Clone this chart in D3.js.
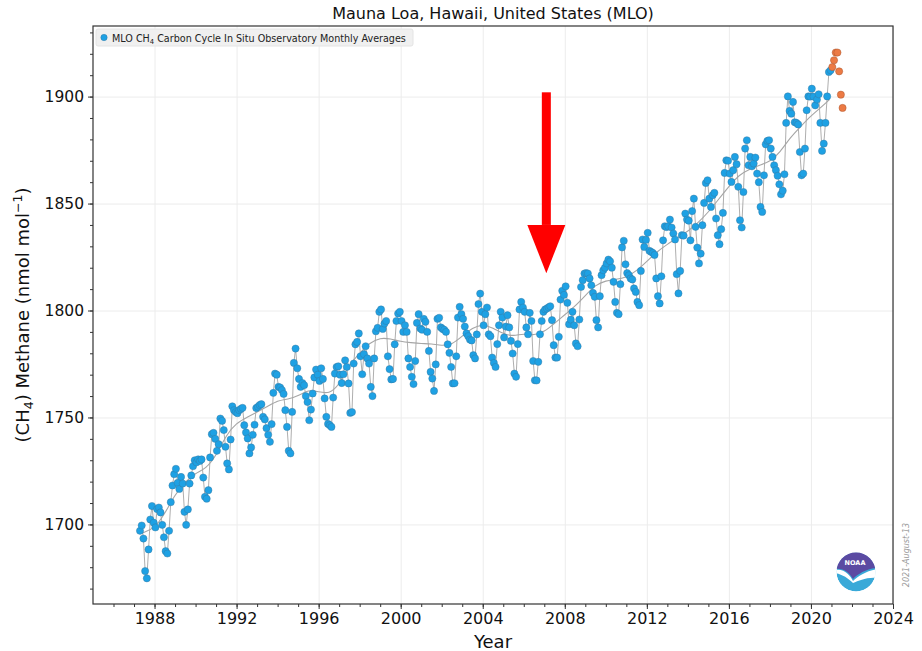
<!DOCTYPE html>
<html>
<head>
<meta charset="utf-8">
<script src="https://cdn.jsdelivr.net/npm/d3@7"></script>
<style>
  html, body { margin: 0; padding: 0; background: #fff; }
  svg { display: block; font-family: 'DejaVu Sans', sans-serif; }
</style>
</head>
<body>
<div id="chart"></div>
<script>
// monthly means, first value is April 1987
const firstYear = 1987;
const firstMonth = 4;
const monthlyCH4 = [
  1697.0, 1699.5, 1693.4, 1678.2, 1674.8, 1688.3, 1702.3, 1708.6, 1700.8,
  1698.6, 1707.2, 1707.9, 1705.6, 1699.8, 1694.0, 1687.5, 1686.4, 1697.0, 1710.4, 1718.2, 1723.5,
  1726.0, 1719.4, 1716.6, 1722.2, 1719.1, 1705.9, 1699.8, 1707.0, 1719.1, 1722.9, 1727.2, 1730.0,
  1729.0, 1730.4, 1729.7, 1730.4, 1721.9, 1712.9, 1712.0, 1716.0, 1731.3, 1742.2, 1742.8, 1740.0,
  1734.4, 1737.5, 1749.5, 1748.4, 1744.1, 1736.3, 1728.5, 1725.7, 1739.7, 1755.2, 1753.4, 1752.5,
  1752.0, 1753.4, 1754.0, 1754.5, 1746.4, 1743.0, 1740.2, 1733.2, 1736.0, 1741.9, 1746.6, 1754.4,
  1755.0, 1755.8, 1756.2, 1750.3, 1749.1, 1745.0, 1741.9, 1738.6, 1746.9, 1761.5, 1770.5, 1770.0,
  1764.3, 1764.0, 1762.8, 1761.0, 1753.4, 1745.6, 1734.4, 1733.2, 1752.6, 1775.5, 1782.2, 1773.0,
  1768.0, 1764.3, 1766.1, 1765.1, 1760.0, 1757.2, 1748.7, 1753.7, 1761.2, 1768.7, 1772.4, 1770.0,
  1767.1, 1773.0, 1768.0, 1758.9, 1750.3, 1747.0, 1746.4, 1745.6, 1759.3, 1770.5, 1773.6, 1773.9,
  1770.0, 1766.1, 1770.2, 1776.7, 1773.6, 1765.9, 1752.1, 1752.5, 1775.2, 1784.2, 1785.3, 1789.3,
  1778.6, 1770.2, 1779.6, 1783.3, 1777.6, 1775.2, 1764.3, 1760.0, 1777.6, 1790.3, 1791.9, 1799.4,
  1800.5, 1791.4, 1793.9, 1795.1, 1778.6, 1772.6, 1767.8, 1768.0, 1784.2, 1795.1, 1798.6, 1799.4,
  1795.1, 1790.0, 1793.1, 1790.0, 1777.6, 1773.6, 1769.0, 1765.6, 1776.4, 1794.2, 1798.3, 1791.6,
  1791.0, 1796.1, 1794.7, 1790.0, 1781.1, 1771.3, 1768.2, 1762.4, 1774.8, 1796.1, 1796.6, 1792.1,
  1791.4, 1791.0, 1790.0, 1784.2, 1780.2, 1773.6, 1765.9, 1766.0, 1778.6, 1796.7, 1801.7, 1798.3,
  1796.1, 1792.5, 1789.3, 1788.0, 1786.4, 1786.0, 1779.1, 1777.6, 1788.8, 1803.0, 1807.9, 1799.4,
  1793.1, 1798.3, 1801.4, 1788.9, 1788.0, 1778.0, 1775.5, 1773.6, 1784.3, 1793.1, 1799.4, 1796.7,
  1787.4, 1792.5, 1797.8, 1792.1, 1785.8, 1779.9, 1770.5, 1769.0, 1784.3, 1800.5, 1804.0, 1801.4,
  1799.4, 1792.1, 1788.9, 1798.9, 1795.1, 1776.4, 1767.4, 1767.3, 1776.0, 1788.9, 1795.1, 1799.4,
  1800.5, 1800.9, 1801.5, 1802.0, 1795.5, 1783.8, 1778.0, 1778.0, 1787.7, 1805.1, 1809.2, 1807.3,
  1811.3, 1803.6, 1793.6, 1795.7, 1799.4, 1793.1, 1784.6, 1783.3, 1795.8, 1811.0, 1814.2, 1817.3,
  1817.5, 1817.3, 1815.0, 1811.8, 1808.2, 1806.4, 1795.5, 1792.1, 1806.7, 1816.5, 1818.8, 1820.0,
  1822.0, 1823.8, 1823.0, 1820.0, 1813.4, 1804.0, 1798.9, 1798.3, 1812.3, 1829.5, 1832.6, 1821.6,
  1817.5, 1816.5, 1815.0, 1814.5, 1810.3, 1808.7, 1804.0, 1802.5, 1818.5, 1833.2, 1829.7, 1833.0,
  1836.3, 1827.9, 1827.4, 1826.9, 1826.0, 1815.0, 1806.7, 1803.3, 1816.0, 1832.8, 1839.4, 1839.0,
  1839.4, 1842.5, 1838.8, 1836.0, 1833.2, 1817.0, 1808.0, 1818.5, 1835.2, 1835.0, 1845.3, 1842.5,
  1842.0, 1832.8, 1846.5, 1852.3, 1839.1, 1829.4, 1822.0, 1826.6, 1839.9, 1850.3, 1859.6, 1860.9,
  1852.3, 1848.4, 1853.9, 1855.0, 1843.0, 1835.2, 1831.0, 1838.0, 1845.6, 1864.3, 1870.2, 1870.0,
  1864.0, 1860.1, 1865.6, 1871.8, 1868.4, 1857.8, 1842.2, 1838.8, 1855.4, 1875.7, 1879.6, 1867.9,
  1871.8, 1867.4, 1868.7, 1871.5, 1864.0, 1860.0, 1848.4, 1846.1, 1863.2, 1877.7, 1879.3, 1879.6,
  1875.7, 1871.8, 1867.9, 1865.6, 1863.0, 1859.0, 1854.3, 1856.0, 1863.7, 1887.7, 1900.1, 1893.3,
  1892.0, 1897.5, 1888.0, 1887.7, 1887.0, 1874.1, 1863.2, 1864.0, 1875.7, 1893.6, 1900.1, 1900.0,
  1903.7, 1900.0, 1895.9, 1898.6, 1901.1, 1887.7, 1874.6, 1878.0, 1887.7, 1900.1, 1911.5, 1912.3
];
// preliminary values, Jan..Jul 2021
const prelimCH4 = [1913.8, 1917.0, 1920.6, 1920.6, 1911.8, 1900.9, 1894.7];

// long term trend, read at half-year steps
const trendYears = [1987.4, 1988.0, 1988.5, 1989.0, 1989.5, 1990.0, 1990.5, 1991.0, 1991.5, 1992.0,
  1992.5, 1993.0, 1993.5, 1994.0, 1994.5, 1995.0, 1995.5, 1996.0, 1996.5, 1997.0, 1997.5, 1998.0,
  1998.5, 1999.0, 1999.5, 2000.0, 2000.5, 2001.0, 2001.5, 2002.0, 2002.5, 2003.0, 2003.5, 2004.0,
  2004.5, 2005.0, 2005.5, 2006.0, 2006.5, 2007.0, 2007.5, 2008.0, 2008.5, 2009.0, 2009.5, 2010.0,
  2010.5, 2011.0, 2011.5, 2012.0, 2012.5, 2013.0, 2013.5, 2014.0, 2014.5, 2015.0, 2015.5, 2016.0,
  2016.5, 2017.0, 2017.5, 2018.0, 2018.5, 2019.0, 2019.5, 2020.0, 2020.5, 2020.9];
const trendCH4 = [1696.0, 1698.0, 1705.0, 1714.0, 1720.0, 1724.0, 1726.0, 1732.0, 1742.0, 1747.5,
  1750.0, 1752.5, 1755.0, 1758.0, 1758.5, 1760.0, 1763.0, 1762.0, 1761.0, 1765.0, 1775.0, 1780.0,
  1785.0, 1787.3, 1786.8, 1785.5, 1785.0, 1784.5, 1784.5, 1783.5, 1784.0, 1788.0, 1792.0, 1793.5,
  1792.0, 1789.0, 1788.0, 1789.3, 1788.3, 1790.0, 1794.0, 1798.0, 1802.0, 1807.0, 1812.0, 1814.0,
  1814.5, 1815.5, 1818.5, 1823.0, 1827.5, 1831.0, 1834.0, 1837.0, 1841.0, 1846.0, 1852.0, 1858.0,
  1863.5, 1866.0, 1868.0, 1869.5, 1874.0, 1881.0, 1886.0, 1891.0, 1895.0, 1898.6];

const xTicks = [1988, 1992, 1996, 2000, 2004, 2008, 2012, 2016, 2020, 2024];
const yTicks = [1700, 1750, 1800, 1850, 1900];

// red arrow, data units
const arrowYear = 2007.1;
const arrowTop = 1902;
const arrowHeadBase = 1840;
const arrowTip = 1817.4;

const width = 922;
const height = 651;
const margin = { top: 26, right: 29, bottom: 47, left: 93 };

const x = d3.scaleLinear().domain([1985, 2024]).range([margin.left, width - margin.right]);
const y = d3.scaleLinear().domain([1662.8, 1933]).range([height - margin.bottom, margin.top]);

let points = monthlyCH4.map((v, i) => {
  let m = firstMonth - 1 + i;
  return { t: firstYear + Math.floor(m / 12) + ((m % 12) + 0.5) / 12, v };
});
let prelim = prelimCH4.map((v, i) => ({ t: 2021 + (i + 0.5) / 12, v }));
let trend = trendYears.map((t, i) => ({ t, v: trendCH4[i] }));

const svg = d3.select('#chart').append('svg')
  .attr('width', width).attr('height', height);

// grid
svg.append('g').attr('class', 'grid')
  .attr('transform', `translate(0,${height - margin.bottom})`)
  .call(d3.axisBottom(x).tickValues(xTicks).tickFormat('').tickSize(-(height - margin.top - margin.bottom)))
  .call((g) => g.select('.domain').remove())
  .call((g) => g.selectAll('line').attr('stroke', '#ececec'));
svg.append('g').attr('class', 'grid')
  .attr('transform', `translate(${margin.left},0)`)
  .call(d3.axisLeft(y).tickValues(yTicks).tickFormat('').tickSize(-(width - margin.left - margin.right)))
  .call((g) => g.select('.domain').remove())
  .call((g) => g.selectAll('line').attr('stroke', '#ececec'));

// minor ticks
svg.append('g')
  .attr('transform', `translate(0,${height - margin.bottom})`)
  .call(d3.axisBottom(x).tickValues(d3.range(1986, 2024)).tickFormat('').tickSize(3))
  .call((g) => g.select('.domain').remove())
  .call((g) => g.selectAll('line').attr('stroke', '#333'));
svg.append('g')
  .attr('transform', `translate(${margin.left},0)`)
  .call(d3.axisLeft(y).tickValues(d3.range(1670, 1933, 10)).tickFormat('').tickSize(3))
  .call((g) => g.select('.domain').remove())
  .call((g) => g.selectAll('line').attr('stroke', '#333'));

// major ticks + labels
svg.append('g')
  .attr('transform', `translate(0,${height - margin.bottom})`)
  .call(d3.axisBottom(x).tickValues(xTicks).tickFormat(d3.format('d')).tickSize(5).tickPadding(4))
  .call((g) => g.select('.domain').remove())
  .call((g) => g.selectAll('line').attr('stroke', '#333'))
  .call((g) => g.selectAll('text').attr('font-size', 16).attr('fill', '#111').attr('font-family', 'DejaVu Sans'));
svg.append('g')
  .attr('transform', `translate(${margin.left},0)`)
  .call(d3.axisLeft(y).tickValues(yTicks).tickFormat(d3.format('d')).tickSize(5).tickPadding(4))
  .call((g) => g.select('.domain').remove())
  .call((g) => g.selectAll('line').attr('stroke', '#333'))
  .call((g) => g.selectAll('text').attr('font-size', 15.5).attr('fill', '#111').attr('font-family', 'DejaVu Sans'));

// lines
const line = d3.line().x((d) => x(d.t)).y((d) => y(d.v));
svg.append('path').datum(points)
  .attr('d', line)
  .attr('fill', 'none').attr('stroke', '#999').attr('stroke-width', 0.8);
svg.append('path').datum(trend)
  .attr('d', line.curve(d3.curveBasis))
  .attr('fill', 'none').attr('stroke', '#a5a5a5').attr('stroke-width', 1.1);

// markers
svg.append('g').selectAll('circle').data(points).join('circle')
  .attr('cx', (d) => x(d.t)).attr('cy', (d) => y(d.v)).attr('r', 3.6)
  .attr('fill', '#1ea1e4').attr('stroke', '#3578a0').attr('stroke-width', 0.45);
svg.append('g').selectAll('circle').data(prelim).join('circle')
  .attr('cx', (d) => x(d.t)).attr('cy', (d) => y(d.v)).attr('r', 3.6)
  .attr('fill', '#ec7a44').attr('stroke', '#a6532c').attr('stroke-width', 0.45);

// frame
svg.append('rect')
  .attr('x', margin.left).attr('y', margin.top)
  .attr('width', width - margin.left - margin.right)
  .attr('height', height - margin.top - margin.bottom)
  .attr('fill', 'none').attr('stroke', '#333').attr('stroke-width', 1.2);

// legend
const legend = svg.append('g');
legend.append('rect')
  .attr('x', 96).attr('y', 29).attr('width', 317).attr('height', 17).attr('rx', 2)
  .attr('fill', '#f0f0f0').attr('stroke', '#e4e4e4');
legend.append('circle').attr('cx', 104).attr('cy', 37.5).attr('r', 3.2)
  .attr('fill', '#1ea1e4').attr('stroke', '#3578a0').attr('stroke-width', 0.45);
const lt = legend.append('text').attr('x', 112).attr('y', 41.5).attr('font-size', 9.6).attr('fill', '#222');
lt.append('tspan').text('MLO CH');
lt.append('tspan').attr('font-size', 6.8).attr('dy', 2).text('4');
lt.append('tspan').attr('dy', -2).text(' Carbon Cycle In Situ Observatory Monthly Averages');

// title + axis labels
svg.append('text').attr('x', (margin.left + width - margin.right) / 2).attr('y', 19)
  .attr('text-anchor', 'middle').attr('font-size', 16).attr('fill', '#111')
  .text('Mauna Loa, Hawaii, United States (MLO)');
svg.append('text').attr('x', (margin.left + width - margin.right) / 2).attr('y', 648)
  .attr('text-anchor', 'middle').attr('font-size', 18).attr('fill', '#111').text('Year');

const yl = svg.append('text')
  .attr('transform', `translate(29,${(margin.top + height - margin.bottom) / 2}) rotate(-90)`)
  .attr('text-anchor', 'middle').attr('font-size', 18).attr('fill', '#111');
yl.append('tspan').text('(CH');
yl.append('tspan').attr('font-size', 12.5).attr('dy', 4).text('4');
yl.append('tspan').attr('dy', -4).text(') Methane (nmol mol');
yl.append('tspan').attr('font-size', 12.5).attr('dy', -7).text('−1');
yl.append('tspan').attr('dy', 7).text(')');

// arrow
const ax = x(arrowYear);
svg.append('rect')
  .attr('x', ax - 4.5).attr('y', y(arrowTop))
  .attr('width', 9).attr('height', y(arrowHeadBase) - y(arrowTop))
  .attr('fill', '#ff0000');
svg.append('path')
  .attr('d', `M${ax - 19},${y(arrowHeadBase)}L${ax + 19},${y(arrowHeadBase)}L${ax},${y(arrowTip)}Z`)
  .attr('fill', '#ff0000');

// NOAA logo
svg.append('clipPath').attr('id', 'logoClip').append('circle').attr('r', 19.5);
const lg = svg.append('g').attr('transform', 'translate(856,572)')
  .append('g').attr('clip-path', 'url(#logoClip)');
lg.append('circle').attr('r', 19.5).attr('fill', '#39a9d8');
lg.append('path')
  .attr('d', 'M-21,-2 C-12,-4 -6,3 -3,9 C2,4 10,-1 21,-3 L21,6 C10,5 3,9 -3,11 C-8,6 -14,2 -21,1 Z')
  .attr('fill', '#ffffff');
lg.append('path')
  .attr('d', 'M-21,-22 L21,-22 L21,-4 C10,-3 2,2 -3,7 C-7,0 -13,-4 -21,-3 Z')
  .attr('fill', '#5b4aa2');
lg.append('text').attr('x', -1).attr('y', -7).attr('text-anchor', 'middle')
  .attr('font-size', 6.5).attr('font-weight', 'bold').attr('fill', '#fff').text('NOAA');

// date stamp
svg.append('text')
  .attr('transform', 'translate(909,555) rotate(-90)')
  .attr('text-anchor', 'middle').attr('font-size', 8).attr('font-style', 'italic')
  .attr('fill', '#999').text('2021-August-13');
</script>
</body>
</html>
